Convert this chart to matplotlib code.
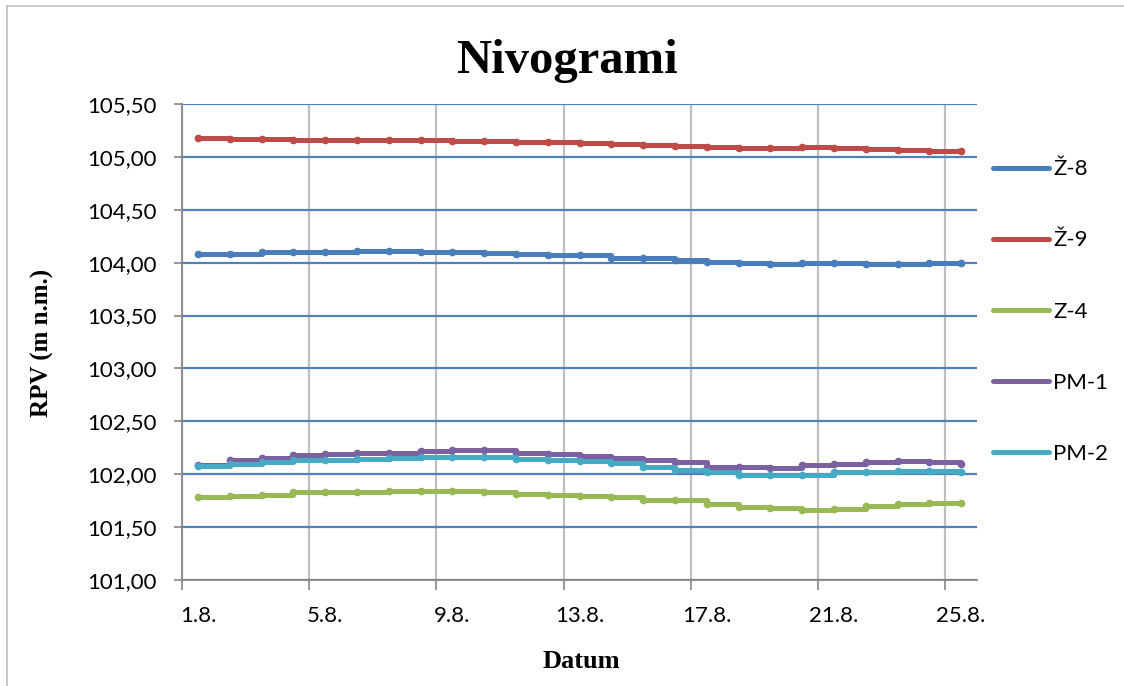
import matplotlib
matplotlib.use("Agg")
import matplotlib.pyplot as plt
from matplotlib.lines import Line2D
from matplotlib.ticker import FixedLocator, FuncFormatter

# ---- data ----
dates = [f"{d}.8." for d in range(1, 26)]
z8 = [104.086, 104.086, 104.10, 104.10, 104.10, 104.11, 104.11, 104.105, 104.10, 104.09,
      104.085, 104.07, 104.068, 104.047, 104.04, 104.025, 104.01, 103.995, 103.985, 103.995,
      103.995, 103.99, 103.99, 103.995, 103.995]
z9 = [105.18, 105.17, 105.17, 105.16, 105.16, 105.16, 105.16, 105.16, 105.15, 105.15,
      105.145, 105.14, 105.135, 105.12, 105.115, 105.10, 105.095, 105.085, 105.08, 105.095,
      105.085, 105.07, 105.065, 105.06, 105.06]
z4 = [101.78, 101.79, 101.80, 101.83, 101.83, 101.83, 101.84, 101.84, 101.84, 101.83,
      101.815, 101.80, 101.79, 101.78, 101.76, 101.755, 101.72, 101.69, 101.68, 101.66,
      101.67, 101.70, 101.72, 101.73, 101.73]
pm1 = [102.09, 102.136, 102.158, 102.177, 102.19, 102.196, 102.20, 102.215, 102.225, 102.225,
       102.205, 102.19, 102.168, 102.152, 102.13, 102.114, 102.07, 102.066, 102.057, 102.09,
       102.10, 102.114, 102.127, 102.12, 102.095]
pm2 = [102.08, 102.10, 102.12, 102.13, 102.136, 102.145, 102.15, 102.16, 102.167, 102.167,
       102.145, 102.136, 102.125, 102.104, 102.073, 102.04, 102.02, 101.994, 101.99, 101.994,
       102.02, 102.025, 102.03, 102.03, 102.025]
series_names = ["Ž-8", "Ž-9", "Z-4", "PM-1", "PM-2"]
series_values = [z8, z9, z4, pm1, pm2]
colors = ["#4A7EBB", "#BE4B48", "#98B954", "#7D60A0", "#46AAC5"]
yticks = [101.0, 101.5, 102.0, 102.5, 103.0, 103.5, 104.0, 104.5, 105.0, 105.5]

W, H = 1124, 686
fig = plt.figure(figsize=(W / 100, H / 100), dpi=100)
ax = fig.add_axes([182 / W, 1 - 580 / H, (977 - 182) / W, (580 - 104) / H])

x = list(range(1, len(dates) + 1))
for name, vals, c in zip(series_names, series_values, colors):
    ax.plot(x, vals, color=c, lw=3.6, drawstyle="steps-post", marker="o",
            markersize=4.5, label=name, solid_capstyle="round", zorder=3)

ax.set_xlim(0.5, len(dates) + 0.5)
ax.set_ylim(101.0, 105.5)

# y axis
ax.yaxis.set_major_locator(FixedLocator(yticks))
ax.yaxis.set_major_formatter(FuncFormatter(lambda v, p: f"{v:.2f}".replace(".", ",")))
ax.grid(axis="y", color="#4F81BD", lw=1.6, zorder=1)
ax.tick_params(axis="y", direction="out", length=6, width=1.2, color="#868686",
               pad=12, labelsize=16)

# x axis: labels at every 4th category center, ticks/grid at boundaries
centers = x[::4]
ax.xaxis.set_major_locator(FixedLocator(centers))
ax.set_xticklabels(dates[::4])
ax.tick_params(axis="x", which="major", length=0, pad=19, labelsize=16)
bounds = [c - 0.5 for c in centers]
ax.xaxis.set_minor_locator(FixedLocator(bounds))
ax.tick_params(axis="x", which="minor", direction="out", length=7, width=1.2,
               color="#868686")
ax.grid(axis="x", which="minor", color="#BFBFBF", lw=1.6, zorder=1)
for lab in ax.get_xticklabels() + ax.get_yticklabels():
    lab.set_fontfamily("Lato")

for s in ["top", "right"]:
    ax.spines[s].set_visible(False)
for s in ["left", "bottom"]:
    ax.spines[s].set_color("#868686")
    ax.spines[s].set_linewidth(1.3)
    ax.spines[s].set_zorder(2)

# texts
fig.text(567 / W, 1 - 73 / H, "Nivogrami", family="Liberation Serif",
         weight="bold", fontsize=35, ha="center", va="baseline")
fig.text(42 / W, 1 - 343 / H, "RPV (m n.m.)", family="Liberation Serif",
         weight="bold", fontsize=18, rotation=90, ha="center", va="center")
fig.text(581 / W, 1 - 668 / H, "Datum", family="Liberation Serif",
         weight="bold", fontsize=19, ha="center", va="baseline")

# legend
leg = ax.legend(loc="center left", bbox_to_anchor=(993 / W, 1 - 311.5 / H),
                bbox_transform=fig.transFigure, frameon=False, borderpad=0,
                borderaxespad=0, labelspacing=2.3, handlelength=2.5,
                handletextpad=0.2, prop={"family": "Lato", "size": 16})
for h in leg.get_lines():
    h.set_marker("")
    h.set_linewidth(3.6)
    h.set_solid_capstyle("round")

# chart border (top and left visible)
fig.add_artist(Line2D([7 / W, 7 / W], [0, 1 - 6 / H], transform=fig.transFigure,
                      color="#BFBFBF", lw=1.2))
fig.add_artist(Line2D([7 / W, 1], [1 - 6 / H, 1 - 6 / H], transform=fig.transFigure,
                      color="#BFBFBF", lw=1.2))

fig.savefig("out.png", dpi=100)
